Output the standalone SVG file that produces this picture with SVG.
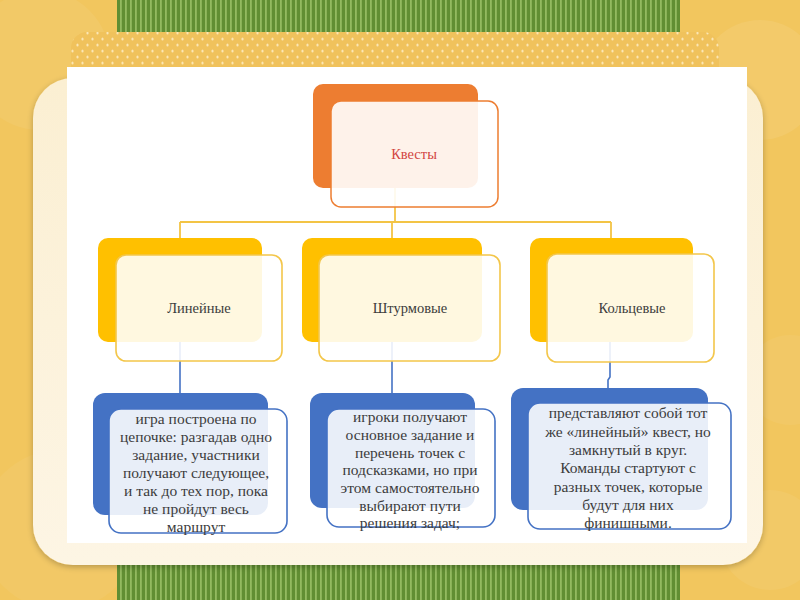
<svg xmlns="http://www.w3.org/2000/svg" width="800" height="600" viewBox="0 0 800 600">
<defs>
<pattern id="stripes" x="0" y="0" width="5" height="10" patternUnits="userSpaceOnUse">
<rect width="5" height="10" fill="#618E33"/>
<rect width="1.8" height="10" fill="#93BA60"/>
</pattern>
<pattern id="dots" x="0" y="0" width="10" height="12" patternUnits="userSpaceOnUse">
<rect width="10" height="12" fill="#F0C25C"/>
<ellipse cx="2.5" cy="3" rx="1.1" ry="1.5" fill="#FBE6B4"/>
<ellipse cx="7.5" cy="9" rx="1.1" ry="1.5" fill="#FBE6B4"/>
</pattern>
<linearGradient id="cream" x1="0" y1="0" x2="0" y2="1">
<stop offset="0" stop-color="#FBEFD2"/>
<stop offset="1" stop-color="#FDF5E4"/>
</linearGradient>
<filter id="shadow" x="-5%" y="-5%" width="110%" height="110%">
<feGaussianBlur in="SourceAlpha" stdDeviation="3"/>
<feOffset dx="0" dy="2"/>
<feComponentTransfer><feFuncA type="linear" slope="0.25"/></feComponentTransfer>
<feMerge><feMergeNode/><feMergeNode in="SourceGraphic"/></feMerge>
</filter>
<style>
.t{font-family:"Liberation Serif","Times New Roman",serif;fill:#3C3C3C;text-anchor:middle}
.t3{font-size:15.5px}
.t2{font-size:14.5px}
.orBack{fill:#ED7D31}
.orFront{fill:#FFFFFF;fill-opacity:0.9;stroke:#ED7D31;stroke-width:1.5}
.yBack{fill:#FFC000}
.yFront{fill:#FFFFFF;fill-opacity:0.88;stroke:#F3C64A;stroke-width:1.6}
.bBack{fill:#4472C4}
.bFront{fill:#FFFFFF;fill-opacity:0.88;stroke:#4472C4;stroke-width:1.6}
.cy{stroke:#F3C445;stroke-width:1.8;fill:none}
.cb{stroke:#4472C4;stroke-width:1.6;fill:none}
</style>
</defs>

<!-- background -->
<rect width="800" height="600" fill="#F2C65E"/>
<circle cx="40" cy="60" r="70" fill="#FFFFFF" fill-opacity="0.06"/>
<circle cx="760" cy="80" r="60" fill="#FFFFFF" fill-opacity="0.08"/>
<circle cx="790" cy="380" r="45" fill="#FFFFFF" fill-opacity="0.05"/>
<circle cx="60" cy="530" r="80" fill="#FFFFFF" fill-opacity="0.05"/>
<circle cx="770" cy="540" r="50" fill="#FFFFFF" fill-opacity="0.06"/>
<rect x="117" y="0" width="563" height="60" fill="url(#stripes)"/>
<rect x="117" y="540" width="563" height="60" fill="url(#stripes)"/>
<rect x="71" y="32" width="648" height="90" rx="16" fill="url(#dots)"/>
<rect x="33" y="78" width="730" height="487" rx="40" fill="url(#cream)" filter="url(#shadow)"/>
<rect x="67" y="67" width="680" height="476" fill="#FFFFFF"/>

<!-- connectors -->
<g id="connectors">
<path class="cy" d="M180 222 H611 M180 222 V245 M392 222 V245 M611 222 V245"/>
<path class="cy" d="M395 188 V222" stroke="#F0B560"/>
<path class="cb" d="M180 340 V398"/>
<path class="cb" d="M392 340 V398"/>
<path class="cb" d="M610 340 V377 L608 380 V392"/>
</g>

<!-- level 1 -->
<g id="node-quests">
<rect class="orBack" x="313" y="84" width="165" height="104" rx="10"/>
<rect class="orFront" x="331" y="101" width="167" height="106" rx="10"/>
<text class="t" x="414" y="159" font-size="14.5" style="fill:#D2453F">Квесты</text>
</g>

<!-- level 2 -->
<g id="node-linear">
<rect class="yBack" x="98" y="238" width="164" height="104" rx="10"/>
<rect class="yFront" x="116" y="255" width="166" height="106" rx="10"/>
<text class="t t2" x="199" y="313">Линейные</text>
</g>
<g id="node-storm">
<rect class="yBack" x="302" y="238" width="180" height="104" rx="10"/>
<rect class="yFront" x="319" y="255" width="181" height="106" rx="10"/>
<text class="t t2" x="410" y="313">Штурмовые</text>
</g>
<g id="node-ring">
<rect class="yBack" x="530" y="238" width="163" height="104" rx="10"/>
<rect class="yFront" x="547" y="254" width="167" height="108" rx="10"/>
<text class="t t2" x="632" y="313">Кольцевые</text>
</g>

<!-- level 3 -->
<g id="node-linear-desc">
<rect class="bBack" x="93" y="393" width="175" height="122" rx="12"/>
<rect class="bFront" x="109" y="409" width="178" height="124" rx="12"/>
<text class="t t3" x="196" y="424">игра построена по</text>
<text class="t t3" x="196" y="442">цепочке: разгадав одно</text>
<text class="t t3" x="196" y="460">задание, участники</text>
<text class="t t3" x="196" y="478">получают следующее,</text>
<text class="t t3" x="196" y="496">и так до тех пор, пока</text>
<text class="t t3" x="196" y="514">не пройдут весь</text>
<text class="t t3" x="196" y="532">маршрут</text>
</g>
<g id="node-storm-desc">
<rect class="bBack" x="310" y="393" width="165" height="115" rx="12"/>
<rect class="bFront" x="327" y="409" width="168" height="118" rx="12"/>
<text class="t t3" x="410" y="422">игроки получают</text>
<text class="t t3" x="410" y="440">основное задание и</text>
<text class="t t3" x="410" y="458">перечень точек с</text>
<text class="t t3" x="410" y="475">подсказками, но при</text>
<text class="t t3" x="410" y="493">этом самостоятельно</text>
<text class="t t3" x="410" y="511">выбирают пути</text>
<text class="t t3" x="410" y="528">решения задач;</text>
</g>
<g id="node-ring-desc">
<rect class="bBack" x="511" y="388" width="197" height="122" rx="12"/>
<rect class="bFront" x="528" y="403" width="203" height="126" rx="12"/>
<text class="t t3" x="628" y="418">представляют собой тот</text>
<text class="t t3" x="628" y="437">же «линейный» квест, но</text>
<text class="t t3" x="628" y="455">замкнутый в круг.</text>
<text class="t t3" x="628" y="473">Команды стартуют с</text>
<text class="t t3" x="628" y="492">разных точек, которые</text>
<text class="t t3" x="628" y="510">будут для них</text>
<text class="t t3" x="628" y="528">финишными.</text>
</g>
</svg>
